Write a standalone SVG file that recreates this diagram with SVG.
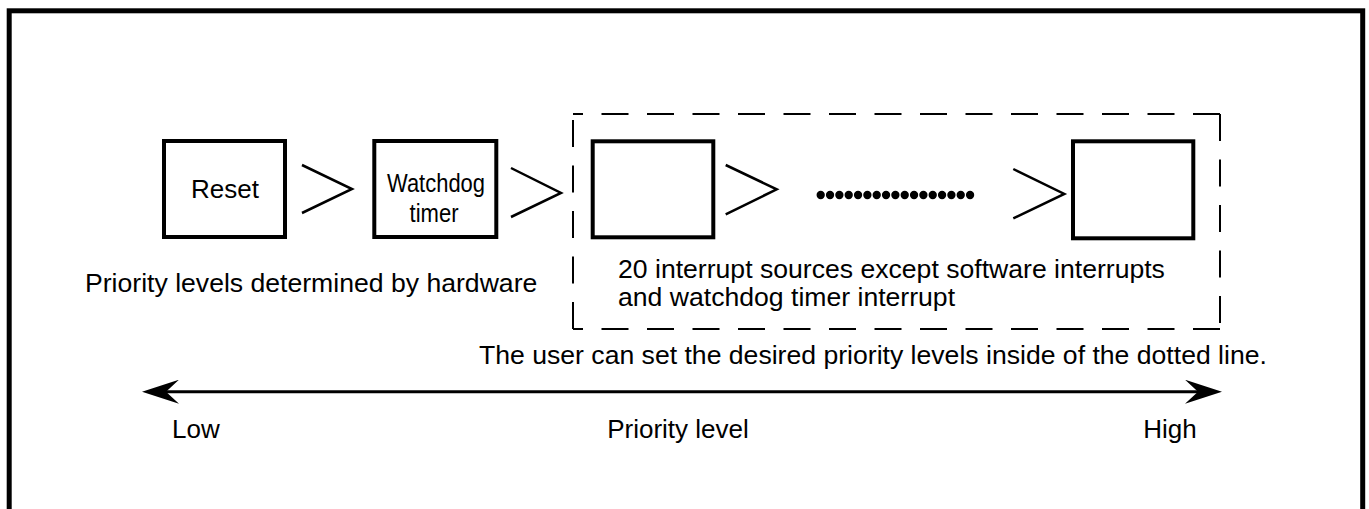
<svg xmlns="http://www.w3.org/2000/svg" width="1369" height="509" viewBox="0 0 1369 509">
<style>
.t{font-family:"Liberation Sans",Arial,sans-serif;font-size:26px;fill:#000}
.l{font-size:26.6px}
.box{fill:#fff;stroke:#000;stroke-width:4}
.chev{fill:none;stroke:#000;stroke-width:2.5}
.dash{fill:none;stroke:#000;stroke-width:2;stroke-dasharray:27 18.5}
</style>
<defs>
<marker id="ah" markerUnits="userSpaceOnUse" markerWidth="38" markerHeight="24" viewBox="0 0 37 24" refX="29" refY="12" orient="auto-start-reverse">
<path d="M0 0 L37 12 L0 24 L13 12 Z" fill="#000"/>
</marker>
</defs>
<rect width="1369" height="509" fill="#fff"/>
<rect id="frame" x="9.2" y="10.8" width="1353.5" height="520" fill="none" stroke="#000" stroke-width="5"/>
<g id="dotted-region">
<path class="dash" d="M1220 114 H573"/>
<path class="dash" d="M1220 114 V329"/>
<path class="dash" d="M1220 329 H573"/>
<path class="dash" d="M573 329 V114"/>
</g>
<g id="node-reset">
<rect class="box" x="164" y="141" width="121" height="96"/>
<text class="t" x="225" y="198" text-anchor="middle">Reset</text>
</g>
<g id="node-watchdog">
<rect class="box" x="374.3" y="141" width="122" height="96"/>
<text class="t" x="436" y="191.5" text-anchor="middle" textLength="98" lengthAdjust="spacingAndGlyphs">Watchdog</text>
<text class="t" x="434" y="221.5" text-anchor="middle" textLength="49" lengthAdjust="spacingAndGlyphs">timer</text>
</g>
<g id="node-first">
<rect class="box" x="592.7" y="141.3" width="120.6" height="96"/>
</g>
<g id="node-last">
<rect class="box" x="1073" y="141.3" width="120.3" height="97"/>
</g>
<g id="connectors">
<polyline class="chev" points="302,165 352,189 302,213"/>
<polyline class="chev" points="511,168 561,193 511,217"/>
<polyline class="chev" points="725.7,165 776.7,189.3 725.7,214.3"/>
<polyline class="chev" points="1013.3,169 1064.3,194 1013.3,218.3"/>
<line x1="820.7" y1="195" x2="979.4" y2="195" stroke="#000" stroke-width="8.3" stroke-linecap="round" stroke-dasharray="0 9.336"/>
<line x1="150" y1="391.7" x2="1214" y2="391.7" stroke="#000" stroke-width="3" marker-start="url(#ah)" marker-end="url(#ah)"/>
</g>
<g id="labels">
<text class="t l" x="85" y="292">Priority levels determined by hardware</text>
<text class="t l" x="618" y="277.7">20 interrupt sources except software interrupts</text>
<text class="t l" x="618" y="306">and watchdog timer interrupt</text>
<text class="t l" x="479" y="364">The user can set the desired priority levels inside of the dotted line.</text>
<text class="t" x="172" y="438.3">Low</text>
<text class="t" x="678" y="438.3" text-anchor="middle">Priority level</text>
<text class="t" x="1143.3" y="438.3">High</text>
</g>
</svg>
